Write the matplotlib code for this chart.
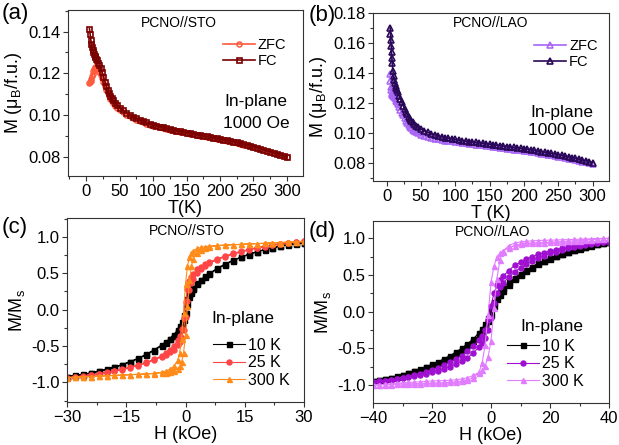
import matplotlib
matplotlib.use("Agg")
import matplotlib.pyplot as plt
from matplotlib.ticker import MultipleLocator, AutoMinorLocator
import numpy as np

plt.rcParams['font.family'] = ['Liberation Sans', 'DejaVu Sans']
plt.rcParams['mathtext.fontset'] = 'custom'
plt.rcParams['mathtext.rm'] = 'Liberation Sans'
plt.rcParams['mathtext.it'] = 'Liberation Sans:italic'

# ---- (a) PCNO//STO, M-T ----
T_sto = [5, 6, 7, 8, 9, 10, 11, 12, 13, 14, 15, 16, 18, 20, 22, 24, 26, 28, 30,
         32, 34, 36, 38, 40, 43, 46, 50, 55, 60, 65, 70, 75, 80, 85, 90, 95, 100,
         105, 110, 115, 120, 125, 130, 135, 140, 145, 150, 155, 160, 165, 170,
         175, 180, 185, 190, 195, 200, 205, 210, 215, 220, 225, 230, 235, 240,
         245, 250, 255, 260, 265, 270, 275, 280, 285, 290, 295, 300]
fc_sto = [0.1415, 0.1390, 0.1362, 0.1342, 0.1325, 0.1312, 0.1301, 0.1292, 0.1284,
          0.1277, 0.1270, 0.1263, 0.1251, 0.1239, 0.1224, 0.1204, 0.1182, 0.1160,
          0.1140, 0.1122, 0.1106, 0.1092, 0.1080, 0.1070, 0.1057, 0.1046, 0.1035,
          0.1022, 0.1011, 0.1001, 0.0992, 0.0984, 0.0977, 0.0970, 0.0964, 0.0958,
          0.0953, 0.0948, 0.0944, 0.0940, 0.0936, 0.0932, 0.0929, 0.0925, 0.0922,
          0.0918, 0.0915, 0.0912, 0.0909, 0.0906, 0.0903, 0.0900, 0.0897, 0.0894,
          0.0891, 0.0888, 0.0885, 0.0882, 0.0879, 0.0876, 0.0872, 0.0868, 0.0864,
          0.0860, 0.0856, 0.0852, 0.0848, 0.0843, 0.0839, 0.0834, 0.0829, 0.0824,
          0.0819, 0.0813, 0.0808, 0.0802, 0.0797]
zfc_sto = [0.1155, 0.1158, 0.1165, 0.1175, 0.1186, 0.1198, 0.1210, 0.1220, 0.1227,
           0.1231, 0.1229, 0.1224, 0.1216, 0.1206, 0.1192, 0.1176, 0.1158, 0.1140,
           0.1122, 0.1106, 0.1091, 0.1078, 0.1067, 0.1057, 0.1045, 0.1035, 0.1024,
           0.1012, 0.1002, 0.0993, 0.0985, 0.0978, 0.0971, 0.0965, 0.0959, 0.0954,
           0.0949, 0.0945, 0.0941, 0.0937, 0.0933, 0.0929, 0.0926, 0.0923, 0.0919,
           0.0916, 0.0913, 0.0910, 0.0907, 0.0904, 0.0901, 0.0898, 0.0895, 0.0892,
           0.0889, 0.0886, 0.0883, 0.0880, 0.0877, 0.0874, 0.0870, 0.0866, 0.0862,
           0.0858, 0.0854, 0.0850, 0.0846, 0.0842, 0.0838, 0.0833, 0.0828, 0.0823,
           0.0818, 0.0812, 0.0807, 0.0801, 0.0796]

# ---- (b) PCNO//LAO, M-T ----
T_lao = [5, 5.5, 6, 6.5, 7, 7.5, 8, 9, 10, 11, 12, 13, 14, 15, 16, 18, 20, 22, 24,
         26, 28, 30, 32, 34, 36, 38, 40, 43, 46, 50, 55, 60, 65, 70, 75, 80, 85,
         90, 95, 100, 105, 110, 115, 120, 125, 130, 135, 140, 145, 150, 155, 160,
         165, 170, 175, 180, 185, 190, 195, 200, 205, 210, 215, 220, 225, 230,
         235, 240, 245, 250, 255, 260, 265, 270, 275, 280, 285, 290, 295, 300]
fc_lao = [0.1700, 0.1660, 0.1620, 0.1580, 0.1540, 0.1500, 0.1465, 0.1415, 0.1378,
          0.1350, 0.1330, 0.1313, 0.1298, 0.1285, 0.1273, 0.1250, 0.1228, 0.1205,
          0.1183, 0.1162, 0.1143, 0.1126, 0.1110, 0.1096, 0.1083, 0.1072, 0.1062,
          0.1050, 0.1039, 0.1027, 0.1015, 0.1004, 0.0995, 0.0988, 0.0981, 0.0975,
          0.0970, 0.0965, 0.0961, 0.0957, 0.0953, 0.0950, 0.0946, 0.0943, 0.0940,
          0.0937, 0.0934, 0.0931, 0.0928, 0.0925, 0.0922, 0.0919, 0.0916, 0.0913,
          0.0910, 0.0907, 0.0904, 0.0901, 0.0898, 0.0895, 0.0892, 0.0888, 0.0884,
          0.0880, 0.0876, 0.0872, 0.0868, 0.0864, 0.0860, 0.0856, 0.0851, 0.0846,
          0.0841, 0.0836, 0.0831, 0.0826, 0.0820, 0.0815, 0.0809, 0.0803]
zfc_lao = [0.1390, 0.1345, 0.1310, 0.1285, 0.1268, 0.1260, 0.1255, 0.1250, 0.1245,
           0.1240, 0.1233, 0.1225, 0.1216, 0.1206, 0.1196, 0.1176, 0.1156, 0.1136,
           0.1117, 0.1099, 0.1082, 0.1067, 0.1054, 0.1042, 0.1032, 0.1023, 0.1015,
           0.1005, 0.0997, 0.0989, 0.0981, 0.0974, 0.0968, 0.0963, 0.0958, 0.0954,
           0.0950, 0.0947, 0.0944, 0.0941, 0.0938, 0.0935, 0.0932, 0.0929, 0.0926,
           0.0923, 0.0920, 0.0917, 0.0914, 0.0911, 0.0908, 0.0905, 0.0902, 0.0899,
           0.0896, 0.0893, 0.0890, 0.0887, 0.0884, 0.0881, 0.0878, 0.0875, 0.0871,
           0.0867, 0.0863, 0.0859, 0.0855, 0.0851, 0.0847, 0.0843, 0.0838, 0.0833,
           0.0829, 0.0824, 0.0819, 0.0814, 0.0809, 0.0804, 0.0799, 0.0794]

# ---- (c) PCNO//STO, M-H, descending branch (+H -> -H) ----
H_sto = [30, 28, 26, 24, 22, 20, 18, 16, 14, 12, 10, 8, 6, 5, 4, 3, 2, 1.5, 1, 0.5,
         0, -0.5, -1, -1.5, -2, -3, -4, -5, -6, -8, -10, -12, -14, -16, -18, -20,
         -22, -24, -26, -28, -30]
m10_sto = [0.920, 0.910, 0.895, 0.875, 0.850, 0.825, 0.795, 0.760, 0.720, 0.675,
           0.625, 0.565, 0.495, 0.455, 0.410, 0.360, 0.300, 0.260, 0.210, 0.140,
           0.050, -0.070, -0.170, -0.230, -0.280, -0.345, -0.400, -0.445, -0.485,
           -0.555, -0.615, -0.670, -0.715, -0.755, -0.790, -0.820, -0.845, -0.870,
           -0.890, -0.905, -0.920]
m25_sto = [0.935, 0.930, 0.920, 0.905, 0.890, 0.870, 0.850, 0.825, 0.800, 0.770,
           0.735, 0.695, 0.650, 0.620, 0.590, 0.550, 0.490, 0.450, 0.390, 0.280,
           0.100, -0.120, -0.270, -0.360, -0.420, -0.500, -0.555, -0.600, -0.635,
           -0.685, -0.725, -0.760, -0.790, -0.815, -0.840, -0.860, -0.880, -0.895,
           -0.910, -0.925, -0.935]
m300_sto = [0.935, 0.930, 0.925, 0.920, 0.915, 0.910, 0.905, 0.900, 0.895, 0.890,
            0.885, 0.880, 0.870, 0.865, 0.855, 0.840, 0.810, 0.780, 0.720, 0.600,
            0.350, -0.050, -0.400, -0.600, -0.700, -0.780, -0.820, -0.845, -0.860,
            -0.875, -0.885, -0.890, -0.895, -0.900, -0.905, -0.910, -0.915, -0.920,
            -0.925, -0.930, -0.935]

# ---- (d) PCNO//LAO, M-H, descending branch ----
H_lao = [40, 38, 36, 34, 32, 30, 28, 26, 24, 22, 20, 18, 16, 14, 12, 10, 8, 6, 4,
         3, 2, 1, 0, -1, -2, -3, -4, -6, -8, -10, -12, -14, -16, -18, -20, -22,
         -24, -26, -28, -30, -32, -34, -36, -38, -40]
m10_lao = [0.950, 0.935, 0.920, 0.903, 0.885, 0.863, 0.840, 0.815, 0.790, 0.760,
           0.730, 0.695, 0.660, 0.615, 0.570, 0.520, 0.460, 0.400, 0.320, 0.270,
           0.210, 0.130, 0.040, -0.080, -0.170, -0.230, -0.285, -0.370, -0.440,
           -0.500, -0.555, -0.600, -0.645, -0.685, -0.720, -0.755, -0.785, -0.810,
           -0.835, -0.860, -0.880, -0.900, -0.918, -0.935, -0.950]
m25_lao = [0.955, 0.948, 0.940, 0.930, 0.920, 0.908, 0.895, 0.880, 0.865, 0.845,
           0.825, 0.805, 0.780, 0.750, 0.715, 0.675, 0.630, 0.560, 0.480, 0.430,
           0.360, 0.250, 0.080, -0.120, -0.250, -0.330, -0.390, -0.470, -0.540,
           -0.600, -0.650, -0.690, -0.730, -0.765, -0.795, -0.820, -0.845, -0.865,
           -0.885, -0.900, -0.915, -0.928, -0.940, -0.948, -0.955]
m300_lao = [1.000, 0.995, 0.990, 0.983, 0.975, 0.970, 0.965, 0.960, 0.955, 0.950,
            0.945, 0.942, 0.940, 0.935, 0.930, 0.920, 0.900, 0.870, 0.830, 0.800,
            0.740, 0.620, 0.400, -0.050, -0.450, -0.700, -0.820, -0.900, -0.935,
            -0.950, -0.960, -0.965, -0.970, -0.973, -0.975, -0.977, -0.980, -0.982,
            -0.985, -0.987, -0.990, -0.993, -0.995, -0.998, -1.000]


def loop(H, M):
    # close the hysteresis loop: ascending branch is the point-reflected descending one
    H = np.array(H, dtype=float)
    M = np.array(M, dtype=float)
    return np.concatenate([H, -H]), np.concatenate([M, -M])


def style_axes(ax):
    for s in ax.spines.values():
        s.set_linewidth(0.8)
        s.set_color('#333333')
    ax.tick_params(which='both', direction='out', top=False, right=False,
                   labelsize=12, width=0.8, color='#333333')
    ax.tick_params(which='major', length=3.5, pad=2)
    ax.tick_params(which='minor', length=2)
    ax.xaxis.set_minor_locator(AutoMinorLocator(2))
    ax.yaxis.set_minor_locator(AutoMinorLocator(2))


fig = plt.figure(figsize=(6.19, 4.45), dpi=100)
W, Hh = 619.0, 445.0


def add_ax(l, t, r, b):
    return fig.add_axes([l / W, 1 - b / Hh, (r - l) / W, (b - t) / Hh])


axa = add_ax(68, 10, 303, 176)
axb = add_ax(373, 13, 609, 181)
axc = add_ax(67, 218, 304, 402)
axd = add_ax(373, 221, 609, 403)

# (a)
axa.plot(T_sto, zfc_sto, '-o', color='#FF5A3C', ms=3.6, mfc='none', mew=1.1,
         lw=1.2, label='ZFC')
axa.plot(T_sto, fc_sto, '-s', color='#7A0000', ms=3.6, mfc='none', mew=1.2,
         lw=1.2, label='FC')
axa.set_xlim(-27, 324)
axa.set_ylim(0.0707, 0.1504)
axa.xaxis.set_major_locator(MultipleLocator(50))
axa.yaxis.set_major_locator(MultipleLocator(0.02))
axa.yaxis.set_major_formatter(plt.FormatStrFormatter('%.2f'))
axa.set_xlabel('T(K)', fontsize=13, labelpad=1)
axa.set_ylabel('M (μ$_\\mathregular{B}$/f.u.)', fontsize=13, labelpad=3)
axa.text(0.47, 0.92, 'PCNO//STO', transform=axa.transAxes, ha='center',
         va='center', fontsize=10)
axa.text(0.80, 0.45, 'In-plane', transform=axa.transAxes, ha='center',
         va='center', fontsize=12.5)
axa.text(0.80, 0.315, '1000 Oe', transform=axa.transAxes, ha='center',
         va='center', fontsize=12.5)
axa.legend(loc='upper left', bbox_to_anchor=(223 / W, 1 - 38 / Hh),
           bbox_transform=fig.transFigure, frameon=False, fontsize=10.5,
           handlelength=2.2, handletextpad=0.2, labelspacing=0.15,
           borderpad=0, borderaxespad=0)

# (b)
axb.plot(T_lao, zfc_lao, '-^', color='#A865F5', ms=3.8, mfc='none', mew=1.1,
         lw=1.2, label='ZFC')
axb.plot(T_lao, fc_lao, '-^', color='#2A0858', ms=3.8, mfc='none', mew=1.2,
         lw=1.2, label='FC')
axb.set_xlim(-20, 324)
axb.set_ylim(0.068, 0.18)
axb.xaxis.set_major_locator(MultipleLocator(50))
axb.yaxis.set_major_locator(MultipleLocator(0.02))
axb.yaxis.set_major_formatter(plt.FormatStrFormatter('%.2f'))
axb.set_xlabel('T (K)', fontsize=13, labelpad=1)
axb.set_ylabel('M (μ$_\\mathregular{B}$/f.u.)', fontsize=13, labelpad=3)
axb.text(0.50, 0.94, 'PCNO//LAO', transform=axb.transAxes, ha='center',
         va='center', fontsize=10)
axb.text(0.80, 0.41, 'In-plane', transform=axb.transAxes, ha='center',
         va='center', fontsize=12.5)
axb.text(0.80, 0.30, '1000 Oe', transform=axb.transAxes, ha='center',
         va='center', fontsize=12.5)
axb.legend(loc='upper left', bbox_to_anchor=(534 / W, 1 - 39 / Hh),
           bbox_transform=fig.transFigure, frameon=False, fontsize=10.5,
           handlelength=2.2, handletextpad=0.2, labelspacing=0.15,
           borderpad=0, borderaxespad=0)

# (c)
for M, c, mk, lab in [(m10_sto, 'black', 's', '10 K'),
                      (m25_sto, '#FF4545', 'o', '25 K'),
                      (m300_sto, '#FF8C1A', '^', '300 K')]:
    hx, my = loop(H_sto, M)
    axc.plot(hx, my, '-', marker=mk, color=c, ms=3.6, lw=0.8, label=lab)
axc.set_xlim(-30, 30)
axc.set_ylim(-1.27, 1.257)
axc.xaxis.set_major_locator(MultipleLocator(15))
axc.yaxis.set_major_locator(MultipleLocator(0.5))
axc.yaxis.set_major_formatter(plt.FormatStrFormatter('%.1f'))
axc.set_xlabel('H (kOe)', fontsize=13, labelpad=1)
axc.set_ylabel('M/M$_\\mathregular{s}$', fontsize=13, labelpad=3)
axc.text(0.505, 0.93, 'PCNO//STO', transform=axc.transAxes, ha='center',
         va='center', fontsize=10)
fig.text(243 / W, 1 - 318 / Hh, 'In-plane', ha='center', va='center',
         fontsize=12.5)
axc.legend(loc='upper left', bbox_to_anchor=(213 / W, 1 - 338 / Hh),
           bbox_transform=fig.transFigure, frameon=False, fontsize=11.5,
           handlelength=2.0, handletextpad=0.2, labelspacing=0.15,
           borderpad=0, borderaxespad=0)

# (d)
for M, c, mk, lab in [(m10_lao, 'black', 's', '10 K'),
                      (m25_lao, '#A010D0', 'o', '25 K'),
                      (m300_lao, '#E27CFF', '^', '300 K')]:
    hx, my = loop(H_lao, M)
    axd.plot(hx, my, '-', marker=mk, color=c, ms=3.6, lw=0.8, label=lab)
axd.set_xlim(-40, 40)
axd.set_ylim(-1.245, 1.236)
axd.xaxis.set_major_locator(MultipleLocator(20))
axd.yaxis.set_major_locator(MultipleLocator(0.5))
axd.yaxis.set_major_formatter(plt.FormatStrFormatter('%.1f'))
axd.set_xlabel('H (kOe)', fontsize=13, labelpad=1)
axd.set_ylabel('M/M$_\\mathregular{s}$', fontsize=13, labelpad=3)
axd.text(0.507, 0.94, 'PCNO//LAO', transform=axd.transAxes, ha='center',
         va='center', fontsize=10)
fig.text(552 / W, 1 - 326 / Hh, 'In-plane', ha='center', va='center',
         fontsize=12.5)
axd.legend(loc='upper left', bbox_to_anchor=(507 / W, 1 - 339 / Hh),
           bbox_transform=fig.transFigure, frameon=False, fontsize=11.5,
           handlelength=2.0, handletextpad=0.2, labelspacing=0.15,
           borderpad=0, borderaxespad=0)

for ax in (axa, axb, axc, axd):
    style_axes(ax)

fig.text(2 / W, 1 - 14 / Hh, '(a)', fontsize=16, va='center', ha='left')
fig.text(309 / W, 1 - 15 / Hh, '(b)', fontsize=16, va='center', ha='left')
fig.text(2 / W, 1 - 227 / Hh, '(c)', fontsize=16, va='center', ha='left')
fig.text(309 / W, 1 - 232 / Hh, '(d)', fontsize=16, va='center', ha='left')

fig.savefig('out.png', dpi=100)
